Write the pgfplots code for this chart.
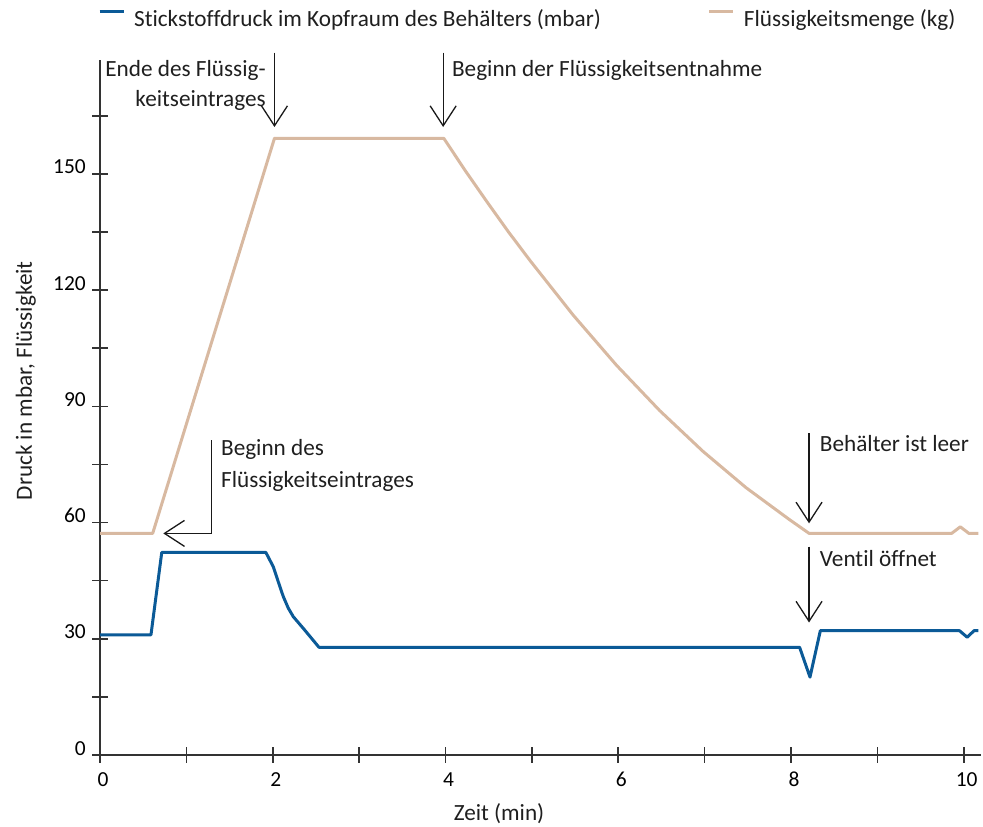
\documentclass[border=0pt]{standalone}
\usepackage{fontspec}
\setmainfont{Carlito}[Ligatures=NoCommon]
\usepackage{pgfplots}
\pgfplotsset{compat=1.18}
\usetikzlibrary{arrows.meta}

\definecolor{druckblau}{HTML}{0B5A97}
\definecolor{menge}{HTML}{D8B9A1}
\definecolor{achse}{HTML}{333333}
\newcommand\fs{\fontsize{23.3}{30}\selectfont}
\newcommand\fst{\fontsize{21.5}{25}\selectfont}

\begin{document}
\begin{tikzpicture}[
  pfeil/.style={line width=1.3bp, draw=black!90,
    -{Straight Barb[length=20bp, width=26bp, line width=1.3bp]}},
  txt/.style={font=\fs, inner sep=0pt, text=black!88}]
\path[use as bounding box] (0,0) rectangle (983bp,827bp);
\begin{axis}[
  at={(100bp,72bp)}, anchor=south west,
  scale only axis, width=881bp, height=695bp,
  xmin=0, xmax=10.2, ymin=0, ymax=179.4,
  axis x line=bottom, axis y line=left,
  axis line style={-, line width=2bp, draw=achse},
  xtick={0,...,10}, xticklabels={0,,2,,4,,6,,8,,10},
  ytick={0,15,...,165}, yticklabels={0,,30,,60,,90,,120,,150,},
  tick align=center, major tick length=16bp,
  tick style={line width=1.6bp, draw=achse},
  /pgf/number format/assume math mode=true,
  xticklabel style={font=\fst, anchor=base, inner sep=0pt, yshift=-23.5bp, xshift=3bp},
  yticklabel style={font=\fst, anchor=base east, inner sep=0pt, xshift=-6bp},
  clip=false,
  legend columns=2,
  legend cell align=left,
  legend image code/.code={\draw[#1] (0bp,7bp) -- (24bp,7bp);},
  legend style={at={(-0.0023,1.059)}, anchor=west, draw=none, fill=none,
    inner sep=0pt, font=\fs, text=black!88,
    nodes={inner sep=0pt},
    /tikz/every odd column/.append style={column sep=9bp},
    /tikz/every even column/.append style={column sep=107bp}},
]

% Stickstoffdruck (mbar)
\addplot[druckblau, line width=3bp, line join=round] coordinates {
  (0,31.0) (0.59,31.0) (0.715,52.3) (1.92,52.3)
  (2.006,48.6) (2.064,44.7) (2.122,40.9) (2.180,37.9) (2.238,35.7)
  (2.353,32.7) (2.450,30.1) (2.535,27.8)
  (8.10,27.8) (8.22,20.1) (8.34,32.1)
  (9.95,32.1) (10.04,30.4) (10.12,32.1) (10.17,32.1)
};
\addlegendentry{Stickstoffdruck im Kopfraum des Behälters (mbar)}

% Flüssigkeitsmenge (kg)
\addplot[menge, line width=3bp, line join=round] coordinates {
  (0,57.2) (0.61,57.2) (2.02,159.2) (3.98,159.2)
  (4.23,150.8) (4.48,142.8) (4.73,135.0) (4.98,127.6) (5.48,113.5)
  (5.98,100.6) (6.48,88.9) (6.98,78.4) (7.48,69.0) (7.98,60.8)
  (8.21,57.2) (9.86,57.2) (9.96,58.9) (10.06,57.2) (10.17,57.2)
};
\addlegendentry{Flüssigkeitsmenge (kg)}

% Achsenbeschriftungen
\node[txt, anchor=base] at (axis cs:4.62,-17.0) {Zeit (min)};
\node[txt, anchor=base, rotate=90] at (axis cs:-0.789,96.6) {Druck in mbar, Flüssigkeit};

% Anmerkungen
\node[txt, anchor=base east] at (axis cs:1.921,175.1) {Ende des Flüssig-};
\node[txt, anchor=base east] at (axis cs:1.921,167.4) {keitseintrages};
\draw[pfeil] (axis cs:2.020,181.3) -- (axis cs:2.020,162.1);

\node[txt, anchor=base west] at (axis cs:4.074,175.1) {Beginn der Flüssigkeitsentnahme};
\draw[pfeil] (axis cs:3.973,181.3) -- (axis cs:3.973,162.1);

\node[txt, anchor=base west] at (axis cs:1.400,77.2) {Beginn des};
\node[txt, anchor=base west] at (axis cs:1.400,69.1) {Flüssigkeitseintrages};
\draw[pfeil] (axis cs:1.293,81.3) -- (axis cs:1.293,57.2) -- (axis cs:0.733,57.2);

\node[txt, anchor=base west] at (axis cs:8.333,78.3) {Behälter ist leer};
\draw[pfeil] (axis cs:8.209,83.1) -- (axis cs:8.209,59.8);

\node[txt, anchor=base west] at (axis cs:8.333,48.6) {Ventil öffnet};
\draw[pfeil] (axis cs:8.209,53.8) -- (axis cs:8.209,34.2);

\end{axis}
\end{tikzpicture}
\end{document}
